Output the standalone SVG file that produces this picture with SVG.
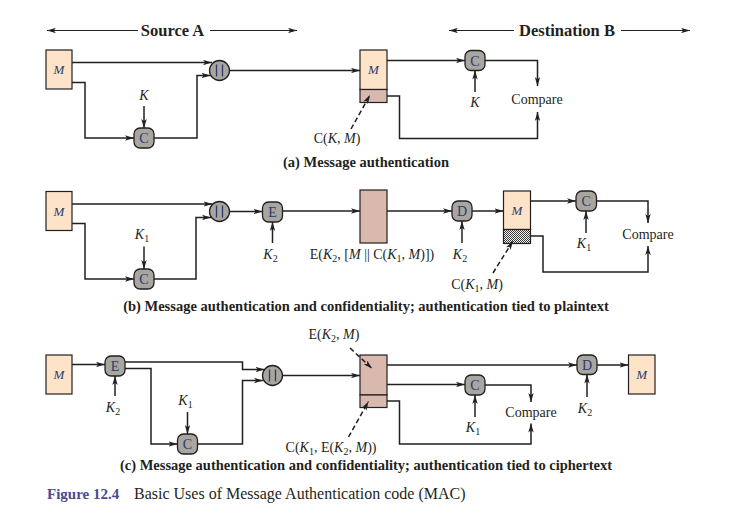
<svg xmlns="http://www.w3.org/2000/svg" width="734" height="523" viewBox="0 0 734 523">
<defs>
<marker id="ah" viewBox="0 0 10 6" refX="10" refY="3" markerWidth="9" markerHeight="5.5" markerUnits="userSpaceOnUse" orient="auto-start-reverse">
<path d="M0,0 L10,3 L0,6 L2.5,3 z" fill="#231f20"/>
</marker>
<pattern id="hatch" width="2" height="2" patternUnits="userSpaceOnUse">
<rect width="2" height="2" fill="#f4f4f4"/>
<rect width="1" height="1" fill="#3a3a3a"/>
<rect x="1" y="1" width="1" height="1" fill="#3a3a3a"/>
</pattern>
</defs>
<style>
text{font-family:"Liberation Serif","Times New Roman",serif;fill:#231f20}
.msg{fill:#fde4c8;stroke:#231f20;stroke-width:1.2}
.cip{fill:#d9b9ae;stroke:#231f20;stroke-width:1.2}
.op{fill:#a9a59f;stroke:#231f20;stroke-width:1.3}
.opt{font-size:14px;fill:#2c3a70;text-anchor:middle}
.mt{font-size:13px;font-style:italic;fill:#2c3a70;text-anchor:middle}
.lbl{font-size:14px;text-anchor:middle}
.k{font-size:14px;font-style:italic;text-anchor:middle}
.cap{font-size:14.5px;font-weight:bold;text-anchor:middle}
.hdr{font-size:16.5px;font-weight:bold;text-anchor:middle}
.ln{fill:none;stroke:#231f20;stroke-width:1.5}
.ar{marker-end:url(#ah)}
.dash{fill:none;stroke:#231f20;stroke-width:1.5;stroke-dasharray:5,3;marker-end:url(#ah)}
.hl{fill:none;stroke:#231f20;stroke-width:1}
</style>
<rect width="734" height="523" fill="#ffffff"/>

<g id="headers">
<line class="hl" x1="47" y1="30.5" x2="138" y2="30.5" marker-start="url(#ah)"/>
<text class="hdr" x="172.5" y="36">Source A</text>
<line class="hl" x1="210" y1="30.5" x2="297" y2="30.5" marker-end="url(#ah)"/>
<line class="hl" x1="449" y1="30.5" x2="514" y2="30.5" marker-start="url(#ah)"/>
<text class="hdr" x="567" y="36">Destination B</text>
<line class="hl" x1="621" y1="30.5" x2="690" y2="30.5" marker-end="url(#ah)"/>
</g>

<!-- panel (a) nodes -->
<g id="a-M"><rect class="msg" x="46" y="50" width="26" height="39"/><text class="mt" x="59" y="74">M</text></g>
<g id="a-C"><rect class="op" x="134" y="128" width="20" height="20" rx="6"/><text class="opt" x="144" y="143">C</text></g>
<g id="a-K"><text class="k" x="144" y="100">K</text></g>
<g id="a-concat"><circle class="op" cx="219.5" cy="70.5" r="10"/><path d="M216.5,64.5 V76.5 M222.5,64.5 V76.5" stroke="#2c3a70" stroke-width="1.3"/></g>
<g id="a-recv"><rect class="msg" x="360" y="50" width="27" height="39.5"/><rect class="cip" x="360" y="89.5" width="27" height="13"/><text class="mt" x="373.5" y="74">M</text></g>
<g id="a-C2"><rect class="op" x="465" y="50.5" width="20" height="20" rx="6"/><text class="opt" x="475" y="65.5">C</text></g>
<g id="a-K2"><text class="k" x="475" y="107">K</text></g>
<g id="a-compare"><text class="lbl" x="537" y="104">Compare</text></g>
<g id="a-mac"><text class="lbl" x="337" y="143">C(<tspan font-style="italic">K</tspan>, <tspan font-style="italic">M</tspan>)</text></g>
<g id="a-caption"><text class="cap" x="366" y="167">(a) Message authentication</text></g>

<!-- panel (b) nodes -->
<g id="b-M"><rect class="msg" x="46" y="191.5" width="26" height="39"/><text class="mt" x="59" y="215.5">M</text></g>
<g id="b-C"><rect class="op" x="134" y="269" width="20" height="20" rx="6"/><text class="opt" x="144" y="284">C</text></g>
<g id="b-K1"><text class="k" x="142" y="239">K<tspan font-size="10" font-style="normal" dy="3">1</tspan></text></g>
<g id="b-concat"><circle class="op" cx="219.5" cy="211.5" r="10"/><path d="M216.5,205.5 V217.5 M222.5,205.5 V217.5" stroke="#2c3a70" stroke-width="1.3"/></g>
<g id="b-E"><rect class="op" x="262.5" y="202" width="20" height="20" rx="6"/><text class="opt" x="272.5" y="217">E</text></g>
<g id="b-K2"><text class="k" x="270.5" y="259">K<tspan font-size="10" font-style="normal" dy="3">2</tspan></text></g>
<g id="b-cipher"><rect class="cip" x="360" y="190" width="27" height="53"/></g>
<g id="b-cipherlabel"><text class="lbl" x="372" y="259">E(<tspan font-style="italic">K</tspan><tspan font-size="10" dy="3">2</tspan><tspan dy="-3">, [</tspan><tspan font-style="italic">M</tspan> || C(<tspan font-style="italic">K</tspan><tspan font-size="10" dy="3">1</tspan><tspan dy="-3">, </tspan><tspan font-style="italic">M</tspan>)])</text></g>
<g id="b-D"><rect class="op" x="452" y="201" width="20" height="20" rx="6"/><text class="opt" x="462" y="216">D</text></g>
<g id="b-K2b"><text class="k" x="460" y="259">K<tspan font-size="10" font-style="normal" dy="3">2</tspan></text></g>
<g id="b-recv"><rect class="msg" x="503.5" y="191" width="27" height="38.5"/><rect x="503.5" y="229.5" width="27" height="14" fill="url(#hatch)" stroke="#231f20" stroke-width="1.2"/><text class="mt" x="517" y="215">M</text></g>
<g id="b-C2"><rect class="op" x="576" y="191" width="20.5" height="20" rx="6"/><text class="opt" x="586.25" y="206">C</text></g>
<g id="b-K1b"><text class="k" x="584" y="248">K<tspan font-size="10" font-style="normal" dy="3">1</tspan></text></g>
<g id="b-compare"><text class="lbl" x="648" y="238.5">Compare</text></g>
<g id="b-mac"><text class="lbl" x="477" y="288.5">C(<tspan font-style="italic">K</tspan><tspan font-size="10" dy="3">1</tspan><tspan dy="-3">, </tspan><tspan font-style="italic">M</tspan>)</text></g>
<g id="b-caption"><text class="cap" x="366" y="311">(b) Message authentication and confidentiality; authentication tied to plaintext</text></g>

<!-- panel (c) nodes -->
<g id="c-M"><rect class="msg" x="46" y="355" width="26" height="39"/><text class="mt" x="59" y="379">M</text></g>
<g id="c-E"><rect class="op" x="105" y="356" width="20" height="20" rx="6"/><text class="opt" x="115" y="371">E</text></g>
<g id="c-K2"><text class="k" x="113" y="412">K<tspan font-size="10" font-style="normal" dy="3">2</tspan></text></g>
<g id="c-C"><rect class="op" x="177.5" y="434" width="20" height="20" rx="6"/><text class="opt" x="187.5" y="449">C</text></g>
<g id="c-K1"><text class="k" x="185.5" y="405">K<tspan font-size="10" font-style="normal" dy="3">1</tspan></text></g>
<g id="c-concat"><circle class="op" cx="272.5" cy="375.5" r="10"/><path d="M269.5,369.5 V381.5 M275.5,369.5 V381.5" stroke="#2c3a70" stroke-width="1.3"/></g>
<g id="c-cipher"><rect class="cip" x="360" y="355" width="27" height="40"/><rect class="cip" x="360" y="395" width="27" height="12.5"/></g>
<g id="c-elabel"><text class="lbl" x="334" y="338.5">E(<tspan font-style="italic">K</tspan><tspan font-size="10" dy="3">2</tspan><tspan dy="-3">, </tspan><tspan font-style="italic">M</tspan>)</text></g>
<g id="c-maclabel"><text class="lbl" x="331" y="452">C(<tspan font-style="italic">K</tspan><tspan font-size="10" dy="3">1</tspan><tspan dy="-3">, E(</tspan><tspan font-style="italic">K</tspan><tspan font-size="10" dy="3">2</tspan><tspan dy="-3">, </tspan><tspan font-style="italic">M</tspan>))</text></g>
<g id="c-D"><rect class="op" x="577" y="355" width="20" height="19.5" rx="6"/><text class="opt" x="587" y="370">D</text></g>
<g id="c-K2b"><text class="k" x="585" y="413">K<tspan font-size="10" font-style="normal" dy="3">2</tspan></text></g>
<g id="c-out"><rect class="msg" x="628.5" y="355" width="26.5" height="39"/><text class="mt" x="641.75" y="379">M</text></g>
<g id="c-C2"><rect class="op" x="465" y="375" width="20" height="20" rx="6"/><text class="opt" x="475" y="390">C</text></g>
<g id="c-K1b"><text class="k" x="473" y="432">K<tspan font-size="10" font-style="normal" dy="3">1</tspan></text></g>
<g id="c-compare"><text class="lbl" x="531" y="417">Compare</text></g>
<g id="c-caption"><text class="cap" x="366" y="470">(c) Message authentication and confidentiality; authentication tied to ciphertext</text></g>

<g id="figure-caption">
<text x="47" y="498.5" font-size="15px" font-weight="bold" style="fill:#4a4a8c">Figure 12.4</text>
<text x="134" y="498.5" font-size="16px">Basic Uses of Message Authentication code (MAC)</text>
</g>

<g id="connectors">
<!-- (a) -->
<path class="ln ar" d="M72,62.5 H212"/>
<path class="ln ar" d="M72,82.5 H85 V138 H134"/>
<path class="ln ar" d="M144,106 V128"/>
<path class="ln ar" d="M154,138 H197 V75.5 H210.5"/>
<path class="ln ar" d="M229.5,70.5 H360"/>
<path class="ln ar" d="M387,60.5 H465"/>
<path class="ln ar" d="M475,92 V70.5"/>
<path class="ln ar" d="M485,60.5 H537.5 V86"/>
<path class="ln ar" d="M387,96 H399.5 V138.5 H537.5 V112"/>
<path class="dash" d="M351,129 L370,95"/>
<!-- (b) -->
<path class="ln ar" d="M72,204 H212.5"/>
<path class="ln ar" d="M72,223.5 H85 V279 H134"/>
<path class="ln ar" d="M144,246.5 V269"/>
<path class="ln ar" d="M154,279 H196 V217.5 H211"/>
<path class="ln ar" d="M229.5,211.5 H262.5"/>
<path class="ln ar" d="M272.5,243 V222"/>
<path class="ln ar" d="M282.5,211 H360"/>
<path class="ln ar" d="M387,211 H452"/>
<path class="ln ar" d="M462,243 V221"/>
<path class="ln ar" d="M472,211 H503.5"/>
<path class="ln ar" d="M530.5,201 H576"/>
<path class="ln ar" d="M586,233 V211"/>
<path class="ln ar" d="M596.5,201 H648 V223"/>
<path class="ln ar" d="M530.5,236 H543 V272 H648 V246"/>
<path class="dash" d="M493,273 L513,241"/>
<!-- (c) -->
<path class="ln ar" d="M72,364.5 H105"/>
<path class="ln ar" d="M115,396 V376"/>
<path class="ln ar" d="M125,362 H242.5 V369.5 H264.5"/>
<path class="ln ar" d="M125,368.5 H151 V444 H177.5"/>
<path class="ln ar" d="M187.5,412 V434"/>
<path class="ln ar" d="M197.5,444 H242.5 V380.5 H263"/>
<path class="ln ar" d="M282.5,375.5 H360"/>
<path class="ln ar" d="M387,365 H577"/>
<path class="ln ar" d="M597,365 H628.5"/>
<path class="ln ar" d="M587,397 V374.5"/>
<path class="ln ar" d="M387,384.5 H465"/>
<path class="ln ar" d="M475,417 V395"/>
<path class="ln ar" d="M485,385 H531 V402"/>
<path class="ln ar" d="M387,401 H399.5 V444 H531 V423.5"/>
<path class="dash" d="M350,348 L372,368.5"/>
<path class="dash" d="M348.5,437 L368.5,401.5"/>
</g>
</svg>
